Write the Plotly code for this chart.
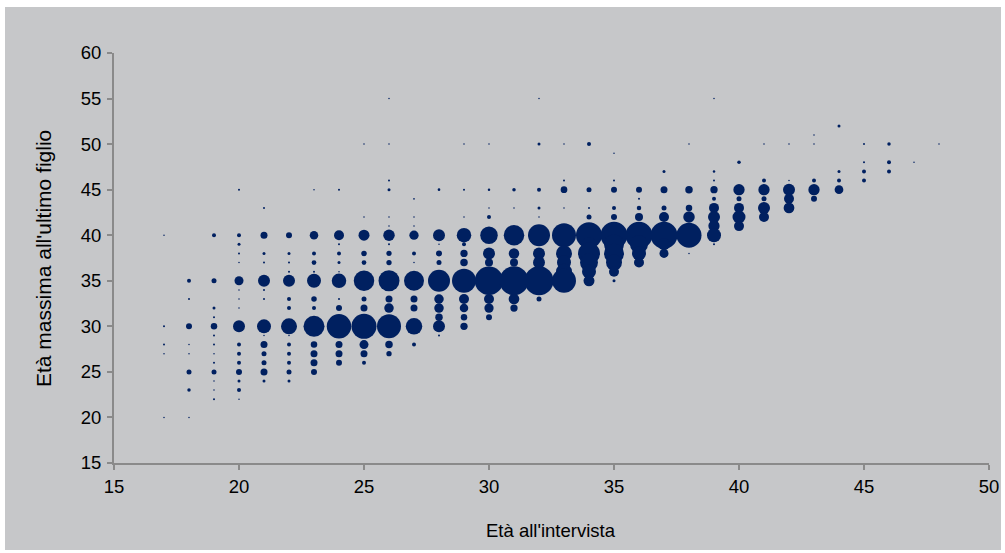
import plotly.graph_objects as go

# Età all'intervista (x), età massima all'ultimo figlio (y), dimensione bolla (diametro stimato, px)
age_interview = (
    [17]*5 + [18]*8 + [19]*13 + [20]*17 + [21]*14 + [22]*14 + [23]*13 + [24]*13 +
    [25]*12 + [26]*16 + [27]*11 + [28]*11 + [29]*12 + [30]*11 + [31]*8 + [32]*10 +
    [33]*9 + [34]*11 + [35]*11 + [36]*8 + [37]*7 + [38]*6 + [39]*10 + [40]*6 +
    [41]*6 + [42]*5 + [43]*5 + [44]*4 + [45]*4 + [46]*3 + [47]*1 + [48]*1
)

age_last_child = [
    40, 30, 28, 27, 20,                                              # 17
    35, 33, 30, 28, 27, 25, 23, 20,                                  # 18
    40, 35, 32, 31, 30, 29, 28, 27, 26, 25, 24, 23, 22,              # 19
    45, 40, 39, 38, 37, 35, 34, 33, 32, 30, 28, 27, 26, 25, 24, 23, 22,  # 20
    43, 40, 38, 37, 35, 34, 33, 30, 29, 28, 27, 26, 25, 24,          # 21
    40, 38, 37, 36, 35, 33, 32, 30, 29, 28, 27, 26, 25, 24,          # 22
    45, 40, 38, 37, 36, 35, 33, 32, 30, 28, 27, 26, 25,              # 23
    45, 40, 39, 38, 37, 36, 35, 33, 32, 30, 28, 27, 26,              # 24
    50, 42, 40, 38, 37, 35, 33, 32, 30, 28, 27, 26,                  # 25
    55, 50, 46, 45, 42, 41, 40, 39, 38, 37, 35, 33, 32, 30, 28, 27,  # 26
    44, 42, 41, 40, 38, 37, 35, 33, 32, 30, 28,                      # 27
    45, 40, 39, 38, 37, 35, 33, 32, 31, 30, 29,                      # 28
    50, 45, 42, 40, 39, 38, 37, 35, 33, 32, 31, 30,                  # 29
    50, 45, 43, 42, 40, 38, 37, 35, 33, 32, 31,                      # 30
    45, 43, 40, 38, 37, 35, 33, 32,                                  # 31
    55, 50, 45, 43, 42, 40, 38, 37, 35, 33,                          # 32
    50, 46, 45, 43, 40, 38, 37, 36, 35,                              # 33
    50, 45, 43, 42, 40, 39, 38, 37, 36, 35, 41,                      # 34
    49, 46, 45, 43, 42, 40, 39, 38, 37, 36, 35,                      # 35
    45, 44, 43, 42, 40, 39, 38, 37,                                  # 36
    47, 45, 43, 42, 40, 39, 38,                                      # 37
    50, 45, 43, 42, 40, 38,                                          # 38
    55, 47, 46, 45, 44, 43, 42, 41, 40, 39,                          # 39
    48, 45, 44, 43, 42, 41,                                          # 40
    50, 46, 45, 44, 43, 42,                                          # 41
    50, 46, 45, 44, 43,                                              # 42
    51, 50, 46, 45, 44,                                              # 43
    52, 47, 46, 45,                                                  # 44
    50, 48, 47, 46,                                                  # 45
    50, 48, 47,                                                      # 46
    48,                                                              # 47
    50,                                                              # 48
]

bubble_size = [
    1.5, 2, 2, 1.5, 1.5,
    4, 2, 6, 1.5, 1.5, 5, 3.5, 1.5,
    4, 5, 3, 2, 6.5, 2, 2, 1.5, 2, 5, 1.5, 1.5, 2,
    2, 4, 3, 2, 1.5, 9, 1.5, 1.5, 1.5, 12, 4, 4, 4, 6, 3, 4, 1.5,
    2, 7, 3, 2, 12, 2, 2, 14, 1.5, 7, 5, 5, 7, 3,
    6, 3, 2, 2, 12, 4, 4, 16, 1.5, 4, 4, 4, 5, 3,
    1.5, 8.5, 4, 4.7, 2, 14, 5.5, 4, 21, 6.5, 7, 7, 6,
    2, 10, 2, 4, 3, 1.5, 14.5, 2, 6, 24.5, 7, 7, 6,
    1.5, 1.5, 11, 5.5, 4.7, 20.5, 5, 7, 25, 9, 7, 4,
    1.5, 1.5, 2, 3, 1.5, 1.5, 11.5, 2, 5.3, 5.3, 21, 7, 9.5, 24, 7.5, 5.3,
    1.7, 1.5, 1.5, 9.3, 4, 1.5, 20, 7, 7, 16.5, 4,
    2.7, 12, 1.5, 6, 5, 22, 9.5, 9.5, 7.5, 12, 2,
    1.5, 2, 1.5, 14.5, 4, 7.3, 7.5, 24, 10, 8.5, 6.5, 7.3,
    1.5, 2.5, 1.5, 4, 17.5, 12, 8, 28.5, 10, 9.3, 6,
    3.5, 1.5, 20.5, 10.5, 8, 29, 10.7, 7.3,
    1.5, 3, 4, 3, 1.5, 22, 12, 12, 29, 5,
    1.5, 2, 6.7, 1.5, 24, 16, 14, 16, 24,
    4, 5, 2, 5, 26, 14, 22, 18, 14, 11, 3,
    1.5, 2, 6, 4, 6, 27, 20, 20, 16, 10, 3,
    6, 2, 4.5, 8, 27, 18, 14, 10,
    3, 7, 5, 10, 27, 12, 9,
    1.5, 7.5, 6.5, 11.5, 25, 1.5,
    1.5, 2.5, 2, 7.3, 4, 10, 12, 11.3, 14, 2,
    3.5, 11.3, 5, 10, 13, 10,
    1.5, 4, 11.3, 5, 12, 10,
    1.5, 1.5, 12, 10, 10.7,
    1.5, 1.5, 4, 11.3, 6,
    3, 3, 4, 8.7,
    2, 2, 4, 4,
    3.5, 4, 4,
    1.5,
    1.5,
]

x_ticks = [15, 20, 25, 30, 35, 40, 45, 50]
y_ticks = [15, 20, 25, 30, 35, 40, 45, 50, 55, 60]

FONT = "Liberation Sans, Arial, sans-serif"
AXIS_GREY = "#8a8a8a"
BG = "#c6c7c9"
NAVY = "#002060"

fig = go.Figure()
fig.add_trace(go.Scatter(
    x=age_interview, y=age_last_child, mode="markers",
    marker=dict(size=bubble_size, sizemode="diameter", color=NAVY,
                line=dict(width=0), opacity=1),
    hoverinfo="x+y", showlegend=False,
))

L, R, T, B = 114, 16, 53, 90
W, H = 1005, 553
pw, ph = W - L - R, H - T - B

def px2x(p):
    return (p - L) / pw

def px2y(p):
    return (H - B - p) / ph

fig.add_shape(type="rect", xref="paper", yref="paper",
              x0=px2x(5), x1=px2x(1001), y0=px2y(550), y1=px2y(7),
              fillcolor=BG, line=dict(width=0), layer="below")

fig.update_layout(
    width=W, height=H,
    margin=dict(l=L, r=R, t=T, b=B, autoexpand=False),
    paper_bgcolor="white", plot_bgcolor=BG,
    font=dict(family=FONT, size=18.5, color="#000000"),
    xaxis=dict(range=[15, 50], tickvals=x_ticks, ticks="outside", ticklen=5,
               tickcolor=AXIS_GREY, tickwidth=1.5, showline=True, linecolor=AXIS_GREY,
               linewidth=2, showgrid=False, zeroline=False, ticklabelstandoff=1,
               tickfont=dict(size=18.5)),
    yaxis=dict(range=[15, 60], tickvals=y_ticks, ticks="outside", ticklen=5,
               tickcolor=AXIS_GREY, tickwidth=1.5, showline=True, linecolor=AXIS_GREY,
               linewidth=2, showgrid=False, zeroline=False, ticklabelstandoff=2,
               tickfont=dict(size=18.5)),
    annotations=[
        dict(text="Età all'intervista", xref="paper", yref="paper",
             x=px2x(551), y=px2y(530), showarrow=False,
             xanchor="center", yanchor="middle", font=dict(size=18.5)),
        dict(text="Età massima all'ultimo figlio", xref="paper", yref="paper",
             x=px2x(43), y=px2y(259), showarrow=False, textangle=-90,
             xanchor="center", yanchor="middle", font=dict(size=21)),
    ],
)

fig.write_html(
    "out.html",
    config={"displayModeBar": False},
    post_script="document.body.style.margin='0';document.body.style.overflow='hidden';",
)
